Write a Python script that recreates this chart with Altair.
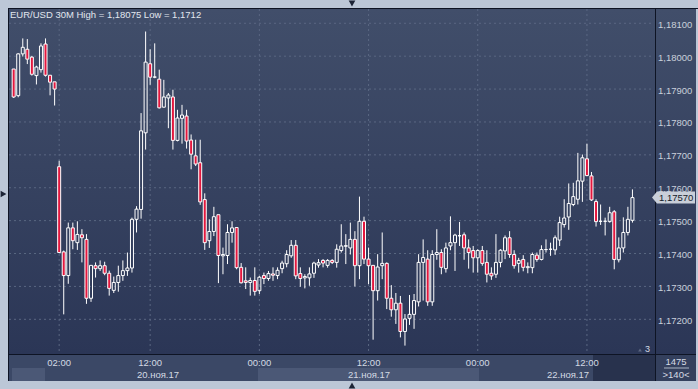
import altair as alt
import pandas as pd
import numpy as np

# ---------------- data (EUR/USD, 30-minute candles) ----------------
opens = [
    1.17961, 1.17880, 1.18007, 1.18021, 1.17997, 1.17941, 1.17959, 1.18037, 1.17942, 1.17922,
    1.17664, 1.17405, 1.17333, 1.17478, 1.17433, 1.17457, 1.17443, 1.17264, 1.17363, 1.17354,
    1.17363, 1.17340, 1.17288, 1.17312, 1.17333, 1.17348, 1.17356, 1.17504, 1.17534, 1.17767,
    1.17977, 1.17936, 1.17930, 1.17845, 1.17873, 1.17876, 1.17744, 1.17811, 1.17818, 1.17745,
    1.17697, 1.17676, 1.17564, 1.17439, 1.17467, 1.17518, 1.17393, 1.17394, 1.17464, 1.17479,
    1.17358, 1.17317, 1.17312, 1.17318, 1.17287, 1.17333, 1.17324, 1.17338, 1.17333, 1.17354,
    1.17369, 1.17393, 1.17425, 1.17339, 1.17326, 1.17326, 1.17340, 1.17365, 1.17379, 1.17364,
    1.17379, 1.17373, 1.17409, 1.17422, 1.17417, 1.17443, 1.17363, 1.17498, 1.17383, 1.17364,
    1.17287, 1.17363, 1.17370, 1.17264, 1.17229, 1.17249, 1.17163, 1.17203, 1.17215, 1.17253,
    1.17373, 1.17383, 1.17253, 1.17397, 1.17403, 1.17354, 1.17423, 1.17433, 1.17454, 1.17457,
    1.17417, 1.17409, 1.17387, 1.17409, 1.17373, 1.17340, 1.17337, 1.17373, 1.17408, 1.17448,
    1.17397, 1.17370, 1.17382, 1.17357, 1.17357, 1.17395, 1.17382, 1.17412, 1.17413, 1.17411,
    1.17441, 1.17488, 1.17511, 1.17549, 1.17565, 1.17620, 1.17688, 1.17636, 1.17558, 1.17498,
    1.17498, 1.17497, 1.17527, 1.17381, 1.17417, 1.17464, 1.17501,
]
highs = [
    1.17961, 1.18009, 1.18054, 1.18052, 1.18001, 1.17971, 1.18039, 1.18054, 1.17943, 1.17922,
    1.17682, 1.17409, 1.17494, 1.17494, 1.17498, 1.17474, 1.17459, 1.17365, 1.17373, 1.17379,
    1.17375, 1.17348, 1.17330, 1.17363, 1.17379, 1.17403, 1.17509, 1.17544, 1.17827, 1.18075,
    1.18021, 1.18039, 1.17959, 1.17928, 1.17888, 1.17898, 1.17837, 1.17852, 1.17837, 1.17762,
    1.17746, 1.17746, 1.17583, 1.17504, 1.17542, 1.17518, 1.17418, 1.17489, 1.17498, 1.17479,
    1.17371, 1.17358, 1.17327, 1.17358, 1.17332, 1.17342, 1.17347, 1.17358, 1.17358, 1.17378,
    1.17410, 1.17441, 1.17441, 1.17358, 1.17337, 1.17358, 1.17375, 1.17383, 1.17383, 1.17383,
    1.17383, 1.17428, 1.17489, 1.17459, 1.17494, 1.17468, 1.17573, 1.17512, 1.17418, 1.17364,
    1.17398, 1.17464, 1.17373, 1.17304, 1.17280, 1.17271, 1.17216, 1.17274, 1.17277, 1.17398,
    1.17443, 1.17410, 1.17410, 1.17474, 1.17413, 1.17433, 1.17513, 1.17460, 1.17496, 1.17464,
    1.17443, 1.17423, 1.17413, 1.17423, 1.17410, 1.17358, 1.17459, 1.17413, 1.17455, 1.17468,
    1.17410, 1.17387, 1.17395, 1.17373, 1.17403, 1.17403, 1.17425, 1.17443, 1.17433, 1.17455,
    1.17512, 1.17565, 1.17613, 1.17615, 1.17706, 1.17701, 1.17734, 1.17648, 1.17565, 1.17549,
    1.17509, 1.17542, 1.17532, 1.17449, 1.17510, 1.17542, 1.17595,
]
lows = [
    1.17873, 1.17875, 1.17999, 1.17976, 1.17941, 1.17914, 1.17950, 1.17938, 1.17881, 1.17850,
    1.17402, 1.17215, 1.17308, 1.17413, 1.17411, 1.17373, 1.17247, 1.17253, 1.17327, 1.17347,
    1.17334, 1.17272, 1.17280, 1.17284, 1.17317, 1.17332, 1.17342, 1.17464, 1.17506, 1.17716,
    1.17913, 1.17933, 1.17841, 1.17844, 1.17781, 1.17716, 1.17741, 1.17734, 1.17719, 1.17656,
    1.17666, 1.17548, 1.17411, 1.17417, 1.17453, 1.17310, 1.17337, 1.17368, 1.17433, 1.17352,
    1.17309, 1.17292, 1.17272, 1.17272, 1.17277, 1.17307, 1.17317, 1.17317, 1.17322, 1.17340,
    1.17358, 1.17387, 1.17322, 1.17299, 1.17294, 1.17302, 1.17326, 1.17357, 1.17358, 1.17357,
    1.17368, 1.17357, 1.17403, 1.17368, 1.17397, 1.17300, 1.17322, 1.17368, 1.17307, 1.17138,
    1.17257, 1.17322, 1.17231, 1.17208, 1.17186, 1.17145, 1.17120, 1.17183, 1.17171, 1.17239,
    1.17257, 1.17241, 1.17241, 1.17381, 1.17337, 1.17342, 1.17410, 1.17347, 1.17423, 1.17381,
    1.17354, 1.17342, 1.17342, 1.17363, 1.17312, 1.17320, 1.17326, 1.17358, 1.17383, 1.17387,
    1.17354, 1.17342, 1.17346, 1.17340, 1.17340, 1.17375, 1.17379, 1.17403, 1.17393, 1.17396,
    1.17423, 1.17479, 1.17472, 1.17544, 1.17549, 1.17557, 1.17635, 1.17560, 1.17482, 1.17487,
    1.17455, 1.17494, 1.17352, 1.17373, 1.17403, 1.17455, 1.17494,
]
closes = [
    1.17876, 1.18007, 1.18027, 1.17991, 1.17945, 1.17967, 1.18031, 1.17942, 1.17921, 1.17900,
    1.17403, 1.17333, 1.17478, 1.17439, 1.17458, 1.17448, 1.17264, 1.17364, 1.17354, 1.17363,
    1.17340, 1.17294, 1.17312, 1.17333, 1.17348, 1.17356, 1.17504, 1.17535, 1.17773, 1.17982,
    1.17936, 1.17937, 1.17843, 1.17876, 1.17882, 1.17744, 1.17812, 1.17821, 1.17742, 1.17702,
    1.17672, 1.17557, 1.17433, 1.17467, 1.17512, 1.17394, 1.17397, 1.17464, 1.17478, 1.17357,
    1.17311, 1.17312, 1.17318, 1.17285, 1.17328, 1.17324, 1.17339, 1.17334, 1.17349, 1.17371,
    1.17397, 1.17425, 1.17332, 1.17324, 1.17330, 1.17338, 1.17371, 1.17372, 1.17371, 1.17379,
    1.17373, 1.17413, 1.17423, 1.17424, 1.17443, 1.17363, 1.17498, 1.17383, 1.17363, 1.17287,
    1.17359, 1.17370, 1.17264, 1.17229, 1.17249, 1.17163, 1.17201, 1.17215, 1.17257, 1.17373,
    1.17388, 1.17253, 1.17397, 1.17403, 1.17358, 1.17417, 1.17433, 1.17456, 1.17454, 1.17417,
    1.17403, 1.17387, 1.17409, 1.17370, 1.17337, 1.17332, 1.17373, 1.17410, 1.17448, 1.17397,
    1.17363, 1.17379, 1.17358, 1.17360, 1.17397, 1.17382, 1.17412, 1.17412, 1.17413, 1.17448,
    1.17494, 1.17508, 1.17552, 1.17573, 1.17621, 1.17691, 1.17637, 1.17563, 1.17497, 1.17498,
    1.17498, 1.17524, 1.17382, 1.17417, 1.17464, 1.17504, 1.17570,
]
start_time = "2017-11-19 21:00"

price_ticks = [1.181, 1.180, 1.179, 1.178, 1.177, 1.176, 1.175, 1.174, 1.173, 1.172]
price_tick_labels = ["1,18100", "1,18000", "1,17900", "1,17800", "1,17700",
                     "1,17600", "1,17500", "1,17400", "1,17300", "1,17200"]
time_ticks = ["2017-11-20 02:00", "2017-11-20 12:00", "2017-11-21 00:00",
              "2017-11-21 12:00", "2017-11-22 00:00", "2017-11-22 12:00"]
date_labels = ["20.ноя.17", "21.ноя.17", "22.ноя.17"]
title_text = "EUR/USD 30M High = 1,18075 Low = 1,1712"
last_price_label = "1,17570"
bars_count_label = "1475"
visible_label = ">140<"

# ---------------- frames ----------------
n = len(opens)
times = pd.date_range(start_time, periods=n, freq="30min")
df = pd.DataFrame({"i": np.arange(n), "t": times, "open": opens, "high": highs,
                   "low": lows, "close": closes})
df["top"] = df[["open", "close"]].max(axis=1)
df["bot"] = df[["open", "close"]].min(axis=1)
up = df[df["close"] >= df["open"]]
down = df[df["close"] < df["open"]]

tick_df = pd.DataFrame({"t": pd.to_datetime(time_ticks)})
tick_df["i"] = [int(np.where(times == t)[0][0]) for t in tick_df["t"]]
tick_df["label"] = tick_df["t"].dt.strftime("%H:%M")
price_df = pd.DataFrame({"p": price_ticks, "label": price_tick_labels})
last_df = pd.DataFrame({"p": [closes[-1]], "label": [last_price_label]})
one = pd.DataFrame({"a": [0]})

xs = alt.Scale(domain=[-1.906, 149.31], nice=False, zero=False)
ys = alt.Scale(domain=[1.169881, 1.181708], nice=False, zero=False)
X = lambda f: alt.X(f, type="quantitative", scale=xs, axis=None)
Y = lambda f: alt.Y(f, type="quantitative", scale=ys, axis=None)

FONT = "Liberation Sans"
FS = 9.5
FRAME = "#bcc7d7"
LINE = "#0e1424"


def box(x1, x2, y1, y2, color):
    return alt.Chart(one).mark_rect(color=color).encode(
        x=alt.value(x1), x2=alt.value(x2), y=alt.value(y1), y2=alt.value(y2))


def grad(top, bottom):
    return alt.LinearGradient(gradient="linear", x1=0, x2=0, y1=0, y2=1,
                              stops=[alt.GradientStop(color=top, offset=0),
                                     alt.GradientStop(color=bottom, offset=1)])


def label(text, x, y, color="#d4dae4", size=FS, align="left"):
    return alt.Chart(one).mark_text(text=text, font=FONT, fontSize=size, color=color,
                                    align=align, baseline="middle").encode(
        x=alt.value(x), y=alt.value(y))


def hline(x1, x2, y, color=LINE, w=1):
    return alt.Chart(one).mark_rule(color=color, strokeWidth=w).encode(
        x=alt.value(x1), x2=alt.value(x2), y=alt.value(y))


def vline(x, y1, y2, color=LINE, w=1):
    return alt.Chart(one).mark_rule(color=color, strokeWidth=w).encode(
        x=alt.value(x), y=alt.value(y1), y2=alt.value(y2))


def tri(shape, x, y, color="#1c2436", size=40):
    return alt.Chart(one).mark_point(shape=shape, filled=True, color=color, size=size,
                                     opacity=1).encode(x=alt.value(x), y=alt.value(y))


plot_bg = alt.Chart(one).mark_rect(color=grad("#414e6a", "#2b3656")).encode(
    x=alt.value(9), x2=alt.value(655), y=alt.value(9), y2=alt.value(354))
axis_bg = alt.Chart(one).mark_rect(color=grad("#414e6a", "#2b3656")).encode(
    x=alt.value(656), x2=alt.value(696), y=alt.value(9), y2=alt.value(354))

strip = [
    box(9, 655, 355, 381, "#3b4866"),
    box(12, 45, 368, 381, "#4b5876"),
    box(258, 479, 368, 381, "#4b5876"),
    box(593, 655, 355, 381, "#28324d"),
    box(656, 696, 355, 381, "#34405d"),
]

grid_h = alt.Chart(price_df).mark_rule(color="#5a6782", strokeDash=[2, 3], strokeWidth=1).encode(
    y=Y("p"), x=alt.value(9), x2=alt.value(653))
grid_v = alt.Chart(tick_df).mark_rule(color="#5a6782", strokeDash=[2, 3], strokeWidth=1).encode(
    x=X("i"), y=alt.value(9), y2=alt.value(353))

wick_up = alt.Chart(df).mark_rule(color="white", strokeWidth=1).encode(
    x=X("i"), y=Y("high"), y2=alt.Y2("top"))
wick_dn = alt.Chart(df).mark_rule(color="white", strokeWidth=1).encode(
    x=X("i"), y=Y("bot"), y2=alt.Y2("low"))
body_up = alt.Chart(up).mark_bar(filled=False, color="white", strokeWidth=1, size=3).encode(
    x=X("i"), y=Y("top"), y2=alt.Y2("bot"))
body_dn = alt.Chart(down).mark_bar(fill="#e3173e", stroke="white", strokeWidth=1, size=3).encode(
    x=X("i"), y=Y("top"), y2=alt.Y2("bot"))

price_text = alt.Chart(price_df).mark_text(font=FONT, fontSize=FS, color="#c9d0db",
                                           align="left", baseline="middle", dy=1.5).encode(
    y=Y("p"), x=alt.value(658), text="label:N")
time_text = alt.Chart(tick_df).mark_text(font=FONT, fontSize=FS, color="#d4dae4",
                                         align="center", baseline="middle").encode(
    x=X("i"), y=alt.value(363), text="label:N")

tag = alt.Chart(last_df).mark_point(
    shape="M-3.83,0L-3,-1L3.33,-1L3.33,1L-3,1Z", filled=True, size=144,
    color="#c9cfd9", opacity=1).encode(x=alt.value(675), y=Y("p"))
tag_text = alt.Chart(last_df).mark_text(font=FONT, fontSize=FS, color="#141a28",
                                        align="left", baseline="middle", dy=0.5).encode(
    x=alt.value(659), y=Y("p"), text="label:N")

frame = [
    box(0, 8, 0, 389, FRAME),
    box(0, 698, 0, 8, FRAME),
    box(0, 698, 381, 389, FRAME),
    box(696, 698, 0, 389, FRAME),
    hline(8, 698, 8.5),
    vline(8.5, 8, 381),
    vline(655.5, 8, 381),
    hline(8, 696, 354.5),
]

texts = [
    label(title_text, 10, 15, color="#e2e7ef"),
    label(date_labels[0], 158, 375, align="center"),
    label(date_labels[1], 369, 375, align="center"),
    label(date_labels[2], 568, 375, align="center"),
    label(bars_count_label, 676, 362, align="center"),
    hline(664, 689, 368, color="#aab4c4"),
    label(visible_label, 676, 375, align="center"),
    label("3", 645, 349, size=9),
    tri("triangle-up", 640, 350, color="#5c6680", size=14),
    tri("triangle-down", 352, 3.5, size=45),
    tri("triangle-up", 352, 385.5, size=45),
    tri("triangle-right", 3.5, 194, size=45),
]

layers = [plot_bg, axis_bg] + strip + [grid_h, grid_v, wick_up, wick_dn, body_up, body_dn] \
    + frame + [price_text, time_text, tag, tag_text] + texts

chart = alt.layer(*layers).properties(
    width=698, height=389,
    autosize=alt.AutoSizeParams(type="none"),
    padding=0, background=FRAME,
).configure_view(strokeWidth=0)

chart.save("out.html", embed_options={"renderer": "svg", "actions": False})
